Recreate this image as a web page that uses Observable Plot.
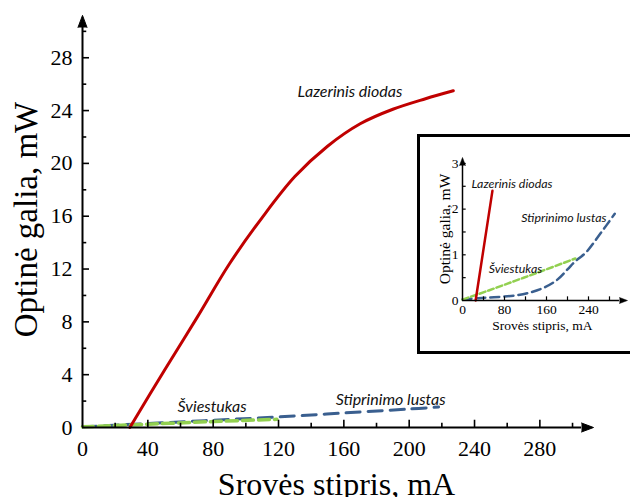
<!DOCTYPE html>
<html>
<head>
<meta charset="utf-8">
<script src="https://cdn.jsdelivr.net/npm/d3@7"></script>
<script src="https://cdn.jsdelivr.net/npm/@observablehq/plot@0.6"></script>
<style>
  html, body { margin: 0; padding: 0; background: #fff; overflow: hidden; }
  #chart { position: relative; width: 630px; height: 497px; overflow: hidden; background: #fff; }
  #chart > svg { position: absolute; left: 0; top: 0; }
  #inset { position: absolute; left: 418px; top: 135px; width: 212px; height: 218px; background: #fff; }
  #inset > svg { position: absolute; left: 0; top: 0; }
  #insetBorder { position: absolute; left: 417px; top: 134px; width: 240px; height: 220px;
                 border: 3px solid #000; box-sizing: border-box; pointer-events: none; }
  svg text.serif { font-family: "Liberation Serif", "Times New Roman", serif !important; }
</style>
</head>
<body>
<div id="chart">
  <div id="inset"></div>
  <div id="insetBorder"></div>
</div>
<script>
// ---- Main chart: optical power vs. drive current ----
const laserCurrent = [29, 50, 70, 90, 110, 130, 150, 170, 190, 210, 227];
const laserPower   = [0, 4.3, 8.3, 12.4, 15.9, 19.0, 21.3, 23.0, 24.1, 24.9, 25.5];
const chipCurrent  = [0, 40, 80, 120, 160, 200, 218];
const chipPower    = [0.05, 0.3, 0.55, 0.8, 1.1, 1.4, 1.55];
const ledCurrent   = [0, 40, 80, 119];
const ledPower     = [0.05, 0.25, 0.45, 0.62];
const xTickLabels  = [0, 40, 80, 120, 160, 200, 240, 280];
const xMinorTicks  = [20, 60, 100, 140, 180, 220, 260, 300];
const yTickLabels  = [0, 4, 8, 12, 16, 20, 24, 28];
const yMinorTicks  = [2, 6, 10, 14, 18, 22, 26, 30];

// ---- Inset: low-power detail ----
const insetLaserCurrent = [25, 57];
const insetLaserPower   = [0, 2.4];
const insetChipCurrent  = [0, 30, 60, 100, 130, 155, 180, 200, 215, 235, 263, 290];
const insetChipPower    = [0.02, 0.05, 0.07, 0.11, 0.18, 0.28, 0.45, 0.68, 0.86, 1.05, 1.47, 1.9];
const insetLedCurrent   = [0, 50, 100, 150, 215];
const insetLedPower     = [0.02, 0.22, 0.43, 0.64, 0.92];
const insetXTickLabels  = [0, 80, 160, 240];
const insetXTicks       = [40, 80, 120, 160, 200, 240, 280];
const insetYTickLabels  = [0, 1, 2, 3];
const insetYTicks       = [0.5, 1, 1.5, 2, 2.5, 3];

const series = (xs, ys) => xs.map((current, i) => ({current, power: ys[i]}));

const RED = "#C00000", BLUE = "#3A5F8F", GREEN = "#92D050";
const SERIF = "'Liberation Serif', 'Times New Roman', serif";
const SANS_ITALIC = "Lato, 'Open Sans', sans-serif";

// Main plot
const X_MAX = 311, Y_MAX = 31.2;
const main = Plot.plot({
  width: 630, height: 497,
  marginLeft: 82, marginRight: 40, marginTop: 15, marginBottom: 70,
  x: {domain: [0, X_MAX]},
  y: {domain: [0, Y_MAX]},
  style: {fontFamily: SERIF, color: "#000", background: "transparent", overflow: "visible"},
  marks: [
    Plot.line(series(chipCurrent, chipPower), {x: "current", y: "power", stroke: BLUE, strokeWidth: 3, strokeDasharray: "14,8", curve: "catmull-rom"}),
    Plot.line(series(ledCurrent, ledPower), {x: "current", y: "power", stroke: GREEN, strokeWidth: 3.5, strokeDasharray: "11,5", curve: "catmull-rom"}),
    Plot.line(series(laserCurrent, laserPower), {x: "current", y: "power", stroke: RED, strokeWidth: 3, curve: "catmull-rom"}),

    // axis lines with arrowheads
    Plot.ruleY([0], {x1: 0, x2: 305.5, stroke: "#000", strokeWidth: 2}),
    Plot.ruleX([0], {y1: 0, y2: 30.3, stroke: "#000", strokeWidth: 2}),
    Plot.vector([0], {x: 305.5, y: 0, rotate: 90, length: 12, r: 4.5, shape: "spike", anchor: "start", fill: "#000", stroke: "#000", strokeWidth: 1}),
    Plot.vector([0], {x: 0, y: 30.3, rotate: 0, length: 12, r: 4.5, shape: "spike", anchor: "start", fill: "#000", stroke: "#000", strokeWidth: 1}),

    // inward ticks
    Plot.ruleX(xTickLabels.slice(1), {x: d => d, y1: 0, y2: 0.55, stroke: "#000", strokeWidth: 1.6}),
    Plot.ruleX(xMinorTicks, {x: d => d, y1: 0, y2: 0.32, stroke: "#000", strokeWidth: 1.6}),
    Plot.ruleY(yTickLabels.slice(1), {y: d => d, x1: 0, x2: 4.3, stroke: "#000", strokeWidth: 1.6}),
    Plot.ruleY(yMinorTicks, {y: d => d, x1: 0, x2: 2.6, stroke: "#000", strokeWidth: 1.6}),

    Plot.axisX({ticks: xTickLabels, tickSize: 0, tickPadding: 13, fontSize: 22, fontFamily: SERIF, className: "serif", label: null, tickFormat: d => String(d)}),
    Plot.axisY({ticks: yTickLabels, tickSize: 0, tickPadding: 10, fontSize: 22, fontFamily: SERIF, className: "serif", label: null, tickFormat: d => String(d)}),

    // axis titles
    Plot.text(["Srovės stipris, mA"], {text: d => d, frameAnchor: "bottom", textAnchor: "middle", lineAnchor: "bottom", dy: 67, fontSize: 32, fontFamily: SERIF}),
    Plot.text(["Optinė galia, mW"], {text: d => d, frameAnchor: "left", textAnchor: "middle", lineAnchor: "bottom", rotate: -90, dx: -46, dy: -2, fontSize: 33, fontFamily: SERIF}),

    // series labels
    Plot.text(["Lazerinis diodas"], {text: d => d, x: 131.7, y: 25.0, textAnchor: "start", lineAnchor: "bottom", fontSize: 16, fontStyle: "italic", fontFamily: SANS_ITALIC, fill: "#111"}),
    Plot.text(["Šviestukas"], {text: d => d, x: 58.2, y: 1.14, textAnchor: "start", lineAnchor: "bottom", fontSize: 16, fontStyle: "italic", fontFamily: SANS_ITALIC, fill: "#111"}),
    Plot.text(["Stiprinimo lustas"], {text: d => d, x: 155, y: 1.74, textAnchor: "start", lineAnchor: "bottom", fontSize: 16, fontStyle: "italic", fontFamily: SANS_ITALIC, fill: "#111"})
  ]
});
document.getElementById("chart").prepend(main);

// Inset plot
const IX_MAX = 312, IY_MAX = 3.13;
const inset = Plot.plot({
  width: 212, height: 218,
  marginLeft: 44, marginRight: 4.2, marginTop: 22, marginBottom: 53,
  x: {domain: [0, IX_MAX]},
  y: {domain: [0, IY_MAX]},
  style: {fontFamily: SERIF, color: "#000", background: "#fff", overflow: "visible"},
  marks: [
    Plot.line(series(insetChipCurrent, insetChipPower), {x: "current", y: "power", stroke: BLUE, strokeWidth: 2.5, strokeDasharray: "9,5", curve: "catmull-rom"}),
    Plot.line(series(insetLedCurrent, insetLedPower), {x: "current", y: "power", stroke: GREEN, strokeWidth: 2.5, strokeDasharray: "6,3", curve: "catmull-rom"}),
    Plot.line(series(insetLaserCurrent, insetLaserPower), {x: "current", y: "power", stroke: RED, strokeWidth: 2.5}),

    Plot.ruleY([0], {x1: 0, x2: 299, stroke: "#000", strokeWidth: 1.5}),
    Plot.ruleX([0], {y1: 0, y2: 2.955, stroke: "#000", strokeWidth: 1.5}),
    Plot.vector([0], {x: 299, y: 0, rotate: 90, length: 8, r: 3, shape: "spike", anchor: "start", fill: "#000", stroke: "#000", strokeWidth: 0.5}),
    Plot.vector([0], {x: 0, y: 2.955, rotate: 0, length: 8, r: 3, shape: "spike", anchor: "start", fill: "#000", stroke: "#000", strokeWidth: 0.5}),

    Plot.ruleX(insetXTicks, {x: d => d, y1: 0, y2: 0.08, stroke: "#000", strokeWidth: 1.2}),
    Plot.ruleY(insetYTicks, {y: d => d, x1: 0, x2: 7, stroke: "#000", strokeWidth: 1.2}),

    Plot.axisX({ticks: insetXTickLabels, tickSize: 0, tickPadding: 4, fontSize: 13.5, fontFamily: SERIF, label: null, tickFormat: d => String(d)}),
    Plot.axisY({ticks: insetYTickLabels, tickSize: 0, tickPadding: 4, fontSize: 13.5, fontFamily: SERIF, label: null, tickFormat: d => String(d)}),

    Plot.text(["Srovės stipris, mA"], {text: d => d, frameAnchor: "bottom", textAnchor: "middle", lineAnchor: "bottom", dy: 29.5, dx: -2, fontSize: 13.5, fontFamily: SERIF}),
    Plot.text(["Optinė galia, mW"], {text: d => d, frameAnchor: "left", textAnchor: "middle", lineAnchor: "bottom", rotate: -90, dx: -13, fontSize: 15.5, fontFamily: SERIF}),

    Plot.text(["Lazerinis diodas"], {text: d => d, x: 17, y: 2.47, textAnchor: "start", lineAnchor: "bottom", fontSize: 12.4, fontStyle: "italic", fontFamily: SANS_ITALIC, fill: "#111"}),
    Plot.text(["Stiprinimo lustas"], {text: d => d, x: 112, y: 1.71, textAnchor: "start", lineAnchor: "bottom", fontSize: 12.4, fontStyle: "italic", fontFamily: SANS_ITALIC, fill: "#111"}),
    Plot.text(["Šviestukas"], {text: d => d, x: 50, y: 0.61, textAnchor: "start", lineAnchor: "bottom", fontSize: 12.4, fontStyle: "italic", fontFamily: SANS_ITALIC, fill: "#111"})
  ]
});
document.getElementById("inset").append(inset);

// Axis tick labels use the serif face of the axis titles.
for (const svg of [main, inset]) {
  d3.select(svg).selectAll("g[aria-label$='tick label'] text")
    .attr("class", "serif")
    .style("font-family", "'Liberation Serif', 'Times New Roman', serif");
}
</script>
</body>
</html>
